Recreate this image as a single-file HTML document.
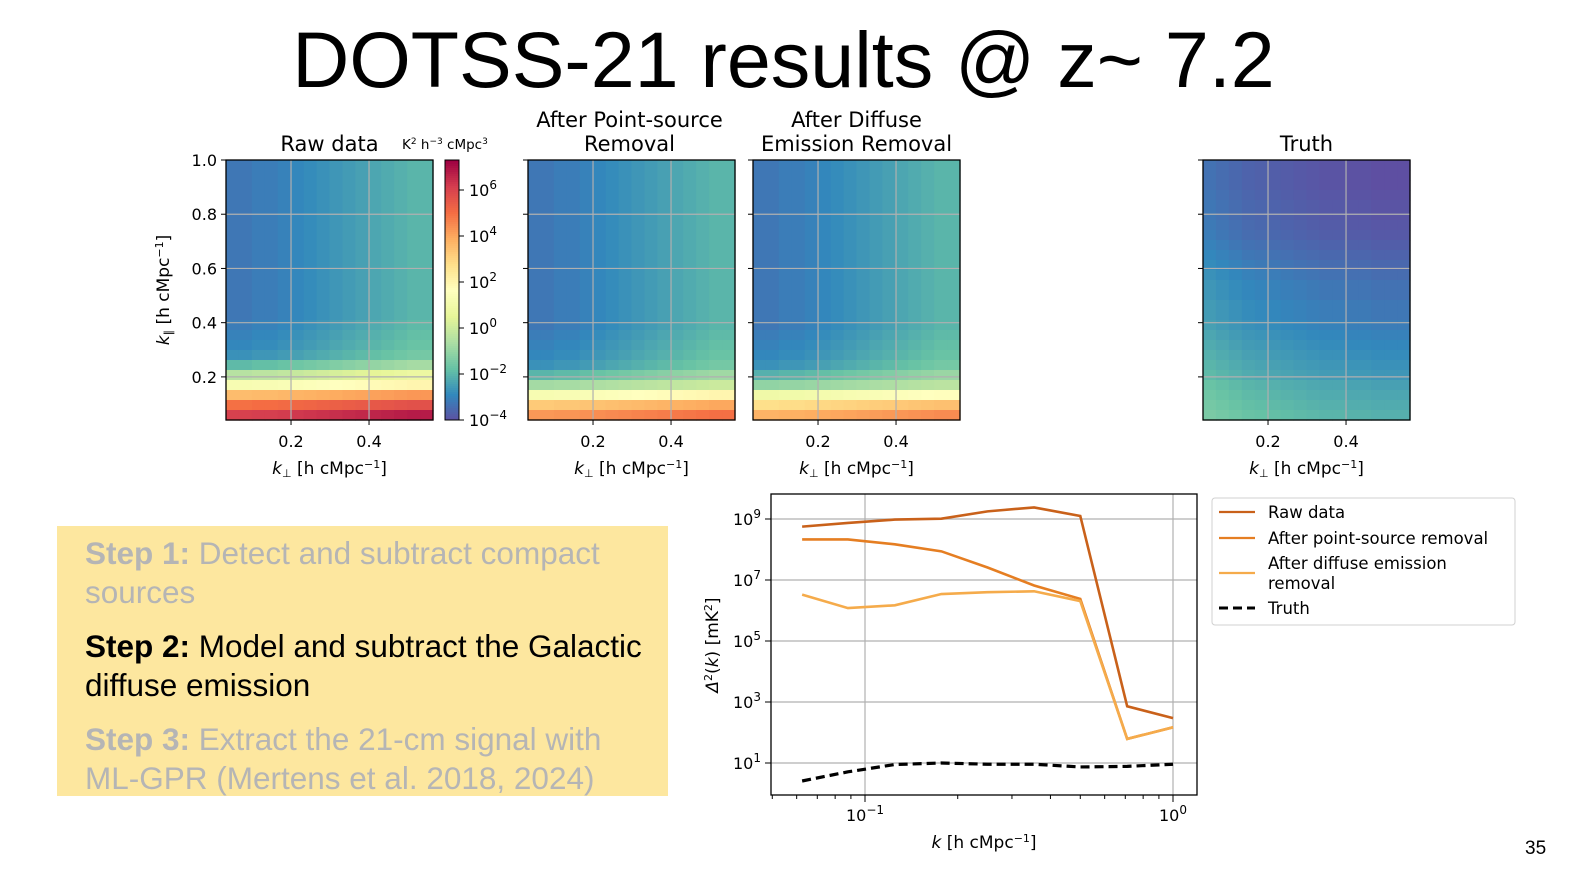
<!DOCTYPE html>
<html><head><meta charset="utf-8">
<style>
html,body{margin:0;width:1587px;height:893px;overflow:hidden;background:#fff;font-family:"Liberation Sans","DejaVu Sans",sans-serif;}
#main{position:absolute;left:0;top:0;display:block}
.box{position:absolute;left:57px;top:526px;width:611px;height:270px;background:#fde79f;overflow:hidden}
.step{position:absolute;left:28px;font-size:31.5px;line-height:39px;width:568px;}
.gray{color:#b5b5b5}
</style></head>
<body>
<div style="position:absolute;left:0;width:1567px;top:16px;text-align:center;font-size:79px;line-height:88px;white-space:nowrap">DOTSS-21 results @ z~ 7.2</div>
<div class="box">
 <div class="step gray" style="top:8px"><b>Step 1:</b> Detect and subtract compact sources</div>
 <div class="step" style="top:101px"><b>Step 2:</b> Model and subtract the Galactic diffuse emission</div>
 <div class="step gray" style="top:194px"><b>Step 3:</b> Extract the 21-cm signal with ML-GPR (Mertens et al. 2018, 2024)</div>
</div>
<div style="position:absolute;left:1525px;top:838px;font-size:19px;">35</div>
<svg id="main" width="1587" height="893" font-family="DejaVu Sans, Liberation Sans, sans-serif"></svg>
<script>
// ---- heatmap data (log10 power), rows top->bottom (26 rows), columns left->right (16)
const rawRows=[-2.8,-2.8,-2.8,-2.8,-2.8,-2.8,-2.8,-2.8,-2.8,-2.8,-2.8,-2.8,-2.8,-2.8,-2.8,-2.8,-2.7,-2.6,-2.5,-2.3,-1.5,0,1.5,3.8,5.2,6.3];
const psRows=[-2.8,-2.8,-2.8,-2.8,-2.8,-2.8,-2.8,-2.8,-2.8,-2.8,-2.8,-2.8,-2.8,-2.8,-2.8,-2.8,-2.8,-2.7,-2.6,-2.5,-2.3,-1.6,-0.5,1.5,3.5,4.5];
const dfRows=[-2.8,-2.8,-2.8,-2.8,-2.8,-2.8,-2.8,-2.8,-2.8,-2.8,-2.8,-2.8,-2.8,-2.8,-2.8,-2.8,-2.8,-2.7,-2.6,-2.5,-2.3,-1.7,-0.8,1.2,3.0,4.0];
const truthRows=[-3.8,-3.8,-3.8,-3.75,-3.7,-3.7,-3.65,-3.6,-3.5,-3.4,-3.3,-3.2,-3.1,-3.1,-3.0,-3.0,-2.9,-2.8,-2.7,-2.6,-2.5,-2.4,-2.2,-2.1,-2.0,-1.9];
const colOffset=[-0.4,-0.4,-0.3,-0.3,-0.2,-0.1,0,0.1,0.2,0.3,0.4,0.5,0.6,0.7,0.8,0.8];
const truthCol=[0.5,0.4,0.3,0.2,0.15,0.1,0.05,0,-0.05,-0.1,-0.1,-0.15,-0.15,-0.2,-0.2,-0.2];
const panelTitles=["Raw data","After Point-source|Removal","After Diffuse|Emission Removal","Truth"];
const panelX=[226,528,753,1203];
const xTicks=[0.2,0.4];
const yTicks=[0.2,0.4,0.6,0.8,1.0];
const cbTicks=[6,4,2,0,-2,-4];
// ---- line chart data
const kVals=[0.0625,0.088,0.125,0.177,0.25,0.354,0.5,0.71,1.0];
const rawLog=[8.75,8.87,8.98,9.01,9.25,9.38,9.1,2.86,2.47];
const psLog=[8.33,8.33,8.17,7.94,7.41,6.82,6.38,1.79,2.17];
const dfLog=[6.52,6.08,6.17,6.54,6.6,6.63,6.31,1.79,2.17];
const truthLog=[0.41,0.71,0.95,1.0,0.96,0.96,0.87,0.89,0.96];

const NS="http://www.w3.org/2000/svg";
const svg=document.getElementById('main');
function mk(tag,attrs,parent){const e=document.createElementNS(NS,tag);for(const k in attrs)e.setAttribute(k,attrs[k]);(parent||svg).appendChild(e);return e;}
const stops=["#5e4fa2","#3288bd","#66c2a5","#abdda4","#e6f598","#ffffbf","#fee08b","#fdae61","#f46d43","#d53e4f","#9e0142"];
function hex(c){return [1,3,5].map(i=>parseInt(c.substr(i,2),16));}
function cmap(v){let t=(v+4)/11.26;t=Math.max(0,Math.min(1,t))*(stops.length-1);const i=Math.min(Math.floor(t),stops.length-2),f=t-i;const a=hex(stops[i]),b=hex(stops[i+1]);return 'rgb('+a.map((x,j)=>Math.round(x+(b[j]-x)*f)).join(',')+')';}
const pTop=160,pBot=420,pW=207;
const kx=(x0,k)=>x0+(k-0.0333)/(0.564-0.0333)*pW;
const ky=k=>pBot-(k-0.041)/(1.0-0.041)*(pBot-pTop);
const allRows=[rawRows,psRows,dfRows,truthRows];
panelX.forEach((x0,p)=>{
  const g=mk('g',{});
  
  
  const rows=allRows[p],cols=p==3?truthCol:colOffset;
  const rh=(pBot-pTop)/rows.length,cw=pW/cols.length;
  rows.forEach((rv,r)=>cols.forEach((cv,c)=>{
    const cell=mk('rect',{x:x0+c*cw,y:pTop+r*rh,width:cw+0.6,height:rh+0.6,fill:cmap(rv+(r>=rows.length-4&&p<3?cv*0.6:cv))},g);
    
    
  }));
  xTicks.forEach(t=>{const x=kx(x0,t);mk('line',{x1:x,x2:x,y1:pTop,y2:pBot,stroke:'#b0b0b0','stroke-width':1.2},g);mk('line',{x1:x,x2:x,y1:pBot,y2:pBot+5,stroke:'#000'},g);
    const tt=mk('text',{x:x,y:447,'text-anchor':'middle','font-size':16},g);tt.textContent=t.toFixed(1);});
  yTicks.forEach(t=>{const y=ky(t);if(t<1)mk('line',{x1:x0,x2:x0+pW,y1:y,y2:y,stroke:'#b0b0b0','stroke-width':1.2},g);mk('line',{x1:x0-5,x2:x0,y1:y,y2:y,stroke:'#000'},g);
    if(p==0){const tt=mk('text',{x:x0-9,y:y+6,'text-anchor':'end','font-size':16},g);tt.textContent=t.toFixed(1);}});
  mk('rect',{x:x0,y:pTop,width:pW,height:pBot-pTop,fill:'none',stroke:'#000','stroke-width':1.3},g);
  const xl=mk('text',{x:x0+pW/2,y:474,'text-anchor':'middle','font-size':17},g);
  xl.innerHTML='<tspan font-style="italic">k</tspan><tspan font-size="11" dy="3">⊥</tspan><tspan dy="-3"> [h cMpc</tspan><tspan font-size="11" dy="-6">−1</tspan><tspan dy="6">]</tspan>';
  const parts=panelTitles[p].split('|');
  parts.forEach((s,i)=>{const tt=mk('text',{x:x0+pW/2+(p==1?-2:0),y:151-(parts.length-1-i)*24,'text-anchor':'middle','font-size':21},g);tt.textContent=s;});
});
const yl=mk('text',{transform:'translate(169,290) rotate(-90)','text-anchor':'middle','font-size':17});


yl.innerHTML='<tspan font-style="italic">k</tspan><tspan font-size="11" dy="3">∥</tspan><tspan dy="-3"> [h cMpc</tspan><tspan font-size="11" dy="-6">−1</tspan><tspan dy="6">]</tspan>';
const cb=mk('g',{});


for(let i=0;i<130;i++){const v=7.26-i*(11.26/130);mk('rect',{x:445,y:160+i*2,width:14,height:2.5,fill:cmap(v)},cb);}
mk('rect',{x:445,y:160,width:14,height:260,fill:'none',stroke:'#000','stroke-width':1},cb);
cbTicks.forEach(t=>{const y=420-(t+4)*23;mk('line',{x1:459,x2:464,y1:y,y2:y,stroke:'#000'},cb);
  const tt=mk('text',{x:469,y:y+6,'font-size':16},cb);tt.innerHTML='10<tspan font-size="12" dy="-7">'+(t<0?'−'+(-t):t)+'</tspan>';});
const cbl=mk('text',{x:402,y:149,'font-size':13.5},cb);cbl.innerHTML='K<tspan font-size="9" dy="-5">2</tspan><tspan dy="5"> h</tspan><tspan font-size="9" dy="-5">−3</tspan><tspan dy="5"> cMpc</tspan><tspan font-size="9" dy="-5">3</tspan>';

const L=771,R=1197,T=494,B=795;
const lx=k=>865+(Math.log10(k)+1)*308;
const ly=v=>763-(v-1)*30.5;
const lc=mk('g',{});


[-1,0].forEach(e=>{const x=lx(Math.pow(10,e));mk('line',{x1:x,x2:x,y1:T,y2:B,stroke:'#b0b0b0','stroke-width':1.2},lc);mk('line',{x1:x,x2:x,y1:B,y2:B+7,stroke:'#000'},lc);
  const tt=mk('text',{x:x,y:821,'text-anchor':'middle','font-size':16},lc);tt.innerHTML='10<tspan font-size="12" dy="-7">'+(e<0?'−1':'0')+'</tspan>';});
for(let d=-2;d<=0;d++)for(let m=2;m<=9;m++){const k=m*Math.pow(10,d);const x=lx(k);if(x>L&&x<R)mk('line',{x1:x,x2:x,y1:B,y2:B+4,stroke:'#000'},lc);}
[1,3,5,7,9].forEach(e=>{const y=ly(e);mk('line',{x1:L,x2:R,y1:y,y2:y,stroke:'#b0b0b0','stroke-width':1.2},lc);mk('line',{x1:L-6,x2:L,y1:y,y2:y,stroke:'#000'},lc);
  const tt=mk('text',{x:L-10,y:y+6,'text-anchor':'end','font-size':16},lc);tt.innerHTML='10<tspan font-size="12" dy="-7">'+e+'</tspan>';});
function series(arr,color,name,dash,w){const p=mk('polyline',{points:arr.map((v,i)=>lx(kVals[i])+','+ly(v)).join(' '),fill:'none',stroke:color,'stroke-width':w||2.6,'stroke-dasharray':dash||'none'},lc);
  }
series(psLog,'#e57e22','line-after-point-source-removal');
series(dfLog,'#f5ab4b','line-after-diffuse-removal');
series(rawLog,'#c9611a','line-raw-data');
series(truthLog,'#000','line-truth','9,5',3.2);
mk('rect',{x:L,y:T,width:R-L,height:B-T,fill:'none',stroke:'#000','stroke-width':1.3},lc);
const xlab=mk('text',{x:984,y:848,'text-anchor':'middle','font-size':17},lc);
xlab.innerHTML='<tspan font-style="italic">k</tspan> [h cMpc<tspan font-size="11" dy="-6">−1</tspan><tspan dy="6">]</tspan>';
const ylab=mk('text',{transform:'translate(718,645) rotate(-90)','text-anchor':'middle','font-size':17},lc);
ylab.innerHTML='<tspan font-style="italic">Δ</tspan><tspan font-size="11" dy="-6">2</tspan><tspan dy="6">(</tspan><tspan font-style="italic">k</tspan>) [mK<tspan font-size="11" dy="-6">2</tspan><tspan dy="6">]</tspan>';
const lg=mk('g',{});


mk('rect',{x:1212,y:498,width:303,height:127,rx:3,fill:'#fff',stroke:'#d0d0d0'},lg);
const legItems=[['Raw data','#c9611a',512,null],['After point-source removal','#e57e22',538,null],['After diffuse emission|removal','#f5ab4b',563,null],['Truth','#000',608,'9,5']];
legItems.forEach(([lab,c,y,d],i)=>{const ly0=(i==2)?y+10:y;
  const ln=mk('line',{x1:1219,x2:1255,y1:ly0,y2:ly0,stroke:c,'stroke-width':d?3:2.2,'stroke-dasharray':d||'none'},lg);
  
  
  lab.split('|').forEach((s,j)=>{const t=mk('text',{x:1268,y:y+6+j*20,'font-size':16.5},lg);t.textContent=s;});});
</script>
</body></html>
